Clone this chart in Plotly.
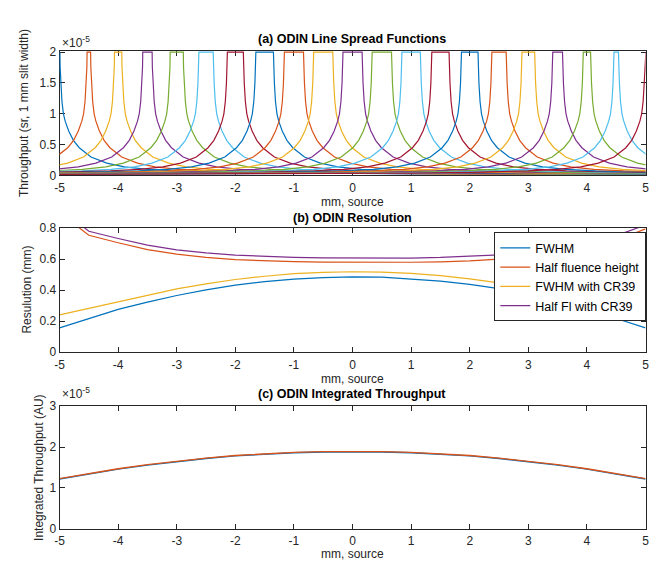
import plotly.graph_objects as go

# ---------------- data ----------------
# (a) line spread functions: one curve per source position (x10^-5 sr)
lsf_centers = [-5.0, -4.5, -4.0, -3.5, -3.0, -2.5, -2.0, -1.5, -1.0, -0.5, 0.0,
               0.5, 1.0, 1.5, 2.0, 2.5, 3.0, 3.5, 4.0, 4.5, 5.0]
# half width of the saturated (flat) top of each curve, mm
lsf_halfwidth = [0.006, 0.030, 0.062, 0.080, 0.112, 0.122, 0.136, 0.150, 0.163, 0.163, 0.163,
                 0.165, 0.157, 0.147, 0.141, 0.122, 0.108, 0.083, 0.062, 0.038, 0.006]
# shared flank profile: distance beyond the flat top (mm) -> throughput (x10^-5)
lsf_offset = [0.0, 0.004, 0.016, 0.035, 0.06, 0.09, 0.15, 0.23, 0.33, 0.53,
              0.8, 1.1, 1.5, 2.0, 3.0, 4.0, 6.0, 8.0, 10.0]
lsf_value = [2.0, 1.75, 1.5, 1.2, 1.0, 0.88, 0.72, 0.57, 0.45, 0.30,
             0.20, 0.14, 0.10, 0.075, 0.05, 0.038, 0.026, 0.02, 0.016]

# (b) resolution vs source position (mm)
src_pos = [-5.0, -4.5, -4.0, -3.5, -3.0, -2.5, -2.0, -1.5, -1.0, -0.5, 0.0,
           0.5, 1.0, 1.5, 2.0, 2.5, 3.0, 3.5, 4.0, 4.5, 5.0]
fwhm = [0.157, 0.218, 0.276, 0.323, 0.366, 0.402, 0.433, 0.455, 0.471, 0.481, 0.486,
        0.484, 0.473, 0.458, 0.438, 0.410, 0.370, 0.325, 0.276, 0.218, 0.157]
half_fluence = [0.90, 0.754, 0.706, 0.662, 0.632, 0.611, 0.597, 0.589, 0.584, 0.581, 0.580,
                0.579, 0.580, 0.583, 0.589, 0.600, 0.616, 0.640, 0.674, 0.720, 0.795]
fwhm_cr39 = [0.241, 0.283, 0.322, 0.367, 0.408, 0.441, 0.469, 0.490, 0.507, 0.515, 0.519,
             0.517, 0.509, 0.494, 0.473, 0.447, 0.413, 0.372, 0.329, 0.285, 0.241]
half_fl_cr39 = [0.93, 0.78, 0.733, 0.690, 0.660, 0.640, 0.626, 0.617, 0.612, 0.608, 0.607,
                0.606, 0.607, 0.611, 0.618, 0.628, 0.648, 0.672, 0.705, 0.752, 0.82]
res_names = ["FWHM", "Half fluence height", "FWHM with CR39", "Half Fl with CR39"]

# (c) integrated throughput (x10^-5 AU)
int_a = [1.22, 1.34, 1.46, 1.56, 1.645, 1.72, 1.785, 1.83, 1.86, 1.88, 1.885,
         1.88, 1.86, 1.83, 1.785, 1.72, 1.645, 1.56, 1.46, 1.34, 1.22]
int_b = [1.23, 1.35, 1.47, 1.57, 1.655, 1.73, 1.795, 1.84, 1.87, 1.89, 1.895,
         1.89, 1.87, 1.84, 1.795, 1.73, 1.655, 1.57, 1.47, 1.35, 1.23]

x_ticks = [-5, -4, -3, -2, -1, 0, 1, 2, 3, 4, 5]
x_tick_labels = ["-5", "-4", "-3", "-2", "-1", "0", "1", "2", "3", "4", "5"]
ya_ticks = [0, 0.5, 1, 1.5, 2]
ya_tick_labels = ["0", "0.5", "1", "1.5", "2"]
yb_ticks = [0, 0.2, 0.4, 0.6, 0.8]
yb_tick_labels = ["0", "0.2", "0.4", "0.6", "0.8"]
yc_ticks = [0, 1, 2, 3]
yc_tick_labels = ["0", "1", "2", "3"]

# ---------------- styling ----------------
COLORS = ["#0072BD", "#D95319", "#EDB120", "#7E2F8E", "#77AC30", "#4DBEEE", "#A2142F"]
FONT = "Liberation Sans, Arial, Helvetica, sans-serif"
AX = "#262626"
W, H = 666, 569

fig = go.Figure()

# panel (a)
for i, (c, hw) in enumerate(zip(lsf_centers, lsf_halfwidth)):
    xs = [c - hw - u for u in reversed(lsf_offset)] + [c + hw + u for u in lsf_offset]
    ys = list(reversed(lsf_value)) + lsf_value
    fig.add_trace(go.Scatter(x=xs, y=ys, mode="lines", xaxis="x", yaxis="y",
                             line=dict(color=COLORS[i % 7], width=1.2),
                             showlegend=False, hoverinfo="skip"))

# panel (b)
for i, (name, vals) in enumerate(zip(res_names, [fwhm, half_fluence, fwhm_cr39, half_fl_cr39])):
    fig.add_trace(go.Scatter(x=src_pos, y=vals, mode="lines", name=name,
                             xaxis="x2", yaxis="y2",
                             line=dict(color=COLORS[i], width=1.2)))

# panel (c)
for i, vals in enumerate([int_a, int_b]):
    fig.add_trace(go.Scatter(x=src_pos, y=vals, mode="lines", xaxis="x3", yaxis="y3",
                             line=dict(color=COLORS[i], width=1.4),
                             showlegend=False))

def px_x(p):
    return p / W

def px_y(p):
    return 1 - p / H

xdom = [55.3 / W, 649.3 / W]
common_x = dict(domain=xdom, range=[-5, 5], tickvals=x_ticks, ticktext=x_tick_labels,
                ticks="inside", ticklen=5,
                tickcolor=AX, showline=True, linecolor=AX, linewidth=1, mirror="ticks",
                showgrid=False, zeroline=False, ticklabelstandoff=1,
                tickfont=dict(family=FONT, size=12, color=AX))
common_y = dict(ticks="inside", ticklen=5, tickcolor=AX, showline=True, linecolor=AX,
                linewidth=1, mirror="ticks", showgrid=False, zeroline=False,
                tickfont=dict(family=FONT, size=12, color=AX))

fig.update_layout(
    width=W, height=H, margin=dict(l=0, r=0, t=0, b=0),
    paper_bgcolor="white", plot_bgcolor="white",
    font=dict(family=FONT, size=12, color=AX),
    xaxis=dict(anchor="y", layer="below traces", **common_x),
    yaxis=dict(domain=[px_y(172.7), px_y(45)], range=[0, 2.02], tickvals=ya_ticks,
               ticktext=ya_tick_labels, anchor="x",
               layer="below traces", **common_y),
    xaxis2=dict(anchor="y2", **common_x),
    yaxis2=dict(domain=[px_y(354), px_y(226.7)], range=[0, 0.8], tickvals=yb_ticks,
                ticktext=yb_tick_labels, anchor="x2", **common_y),
    xaxis3=dict(anchor="y3", **common_x),
    yaxis3=dict(domain=[px_y(535), px_y(409.3)], range=[0, 3], tickvals=yc_ticks,
                ticktext=yc_tick_labels, anchor="x3", **common_y),
    legend=dict(x=px_x(496), y=px_y(231), xanchor="left", yanchor="top",
                bgcolor="white", bordercolor=AX, borderwidth=1,
                font=dict(family=FONT, size=12.5, color="black"), itemwidth=30,
                tracegroupgap=0),
)

ann = []
def text(x, y, s, size=12, angle=0, xanchor="center", color="black"):
    ann.append(dict(x=px_x(x), y=px_y(y), xref="paper", yref="paper", text=s,
                    showarrow=False, textangle=angle, xanchor=xanchor, yanchor="middle",
                    font=dict(family=FONT, size=size, color=color)))

text(352, 33, "<b>(a) ODIN Line Spread Functions</b>", size=12.5)
text(352, 216, "<b>(b) ODIN Resolution</b>", size=12.5)
text(352, 397, "<b>(c) ODIN Integrated Throughput</b>", size=12.5)
text(352, 200, "mm, source", color=AX)
text(352, 381, "mm, source", color=AX)
text(352, 561, "mm, source", color=AX)
text(20, 109, "Throughput (sr, 1 mm slit width)", angle=-90, color=AX)
text(22, 290, "Resulution (mm)", angle=-90, color=AX)
text(35, 472, "Integrated Throughput (AU)", angle=-90, color=AX)
text(56, 36, "×10<sup>-5</sup>", xanchor="left", color=AX)
text(56, 396, "×10<sup>-5</sup>", xanchor="left", color=AX)
fig.update_layout(annotations=ann)

fig.write_html("out.html", config={"displayModeBar": False},
               post_script="document.body.style.margin='0px';document.body.style.overflow='hidden';")
